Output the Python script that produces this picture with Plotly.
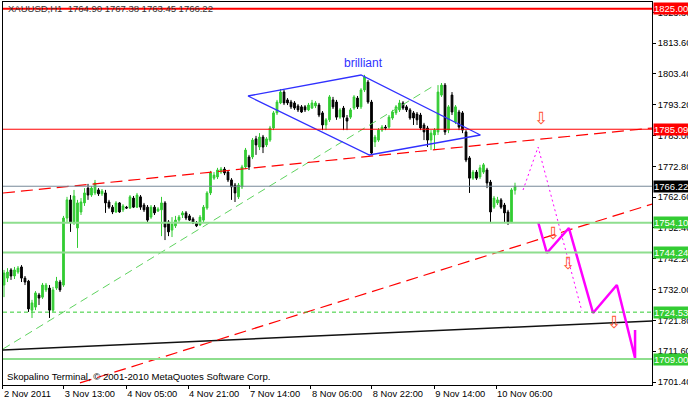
import plotly.graph_objects as go

# ---------------- data ----------------
opens = [
1733.5,1735.8,1738.5,1736.5,1737.8,1739.5,1735.8,1734.8,1725.2,1726.2,
1730.2,1729.5,1731.9,1732.5,1725.2,1732.5,1734.5,1733.5,1755.7,1761.7,
1754.4,1752.4,1757.7,1760.7,1765.6,1763.3,1764.0,1765.0,1763.7,1764.0,
1761.0,1759.3,1757.7,1760.7,1758.4,1759.3,1759.0,1762.3,1759.3,1762.7,
1760.0,1759.3,1756.0,1759.3,1758.0,1758.4,1760.7,1754.4,1751.7,1753.1,
1755.0,1756.7,1757.4,1756.4,1755.4,1754.0,1753.4,1755.0,1759.0,1764.0,
1768.9,1769.3,1770.9,1771.9,1770.9,1768.3,1766.6,1762.7,1766.0,1772.6,
1775.9,1775.9,1781.9,1779.2,1782.5,1779.9,1781.5,1785.5,1790.5,1793.8,
1797.4,1794.8,1794.1,1793.8,1792.8,1792.5,1792.5,1791.5,1792.1,1792.8,
1793.1,1790.5,1786.5,1788.2,1794.8,1794.1,1789.1,1792.1,1788.8,1789.1,
1792.1,1795.4,1792.5,1798.1,1800.7,1794.1,1780.9,1781.5,1784.8,1785.8,
1785.8,1788.8,1790.5,1791.5,1793.8,1792.5,1791.5,1790.5,1790.1,1789.8,
1786.5,1785.5,1781.5,1783.2,1784.2,1796.4,1799.7,1784.8,1796.4,1787.5,
1790.8,1790.5,1784.2,1775.6,1768.9,1770.9,1769.3,1770.9,1771.6,1767.6,
1759.3,1760.7,1761.7,1760.0,1757.7,1754.4,1764.90]

highs = [
1738.5,1739.1,1739.1,1739.5,1739.8,1740.1,1736.5,1735.2,1728.6,1731.5,
1730.9,1734.2,1734.2,1733.5,1732.9,1736.2,1735.2,1756.4,1762.7,1763.3,
1765.0,1761.7,1762.3,1765.6,1767.0,1766.3,1768.3,1765.6,1765.3,1765.0,
1761.7,1760.0,1761.3,1761.0,1760.3,1759.7,1763.3,1763.0,1764.0,1763.3,
1760.7,1760.0,1760.0,1760.0,1759.3,1762.7,1761.3,1755.0,1756.0,1756.4,
1756.7,1758.0,1758.0,1757.0,1756.0,1754.7,1756.7,1760.0,1764.6,1771.3,
1770.9,1772.3,1772.6,1772.6,1771.6,1768.9,1767.3,1767.3,1773.3,1778.9,
1776.6,1782.2,1782.9,1783.8,1783.2,1782.5,1786.2,1791.1,1794.8,1798.4,
1798.1,1795.4,1794.8,1794.4,1793.4,1793.1,1793.1,1793.8,1794.8,1794.4,
1793.8,1791.1,1788.8,1796.4,1795.8,1794.8,1792.1,1792.8,1789.8,1792.1,
1796.4,1796.1,1798.7,1803.1,1801.4,1794.8,1783.2,1785.5,1786.5,1786.5,
1789.8,1791.5,1793.1,1794.8,1794.4,1793.1,1792.1,1791.1,1790.8,1790.5,
1787.2,1786.2,1784.8,1785.5,1799.7,1800.4,1800.4,1793.1,1797.4,1793.1,
1791.5,1791.1,1784.8,1776.2,1771.6,1771.6,1773.3,1773.9,1772.3,1768.3,
1763.0,1762.7,1762.3,1760.7,1758.4,1765.6,1767.38]

lows = [
1729.5,1734.5,1735.2,1735.5,1737.2,1734.5,1733.5,1724.6,1722.6,1725.2,
1726.9,1728.9,1731.2,1722.6,1724.6,1731.9,1731.2,1732.9,1754.4,1751.1,
1753.4,1745.8,1756.7,1759.7,1761.7,1762.7,1763.3,1763.0,1763.0,1757.4,
1758.7,1757.0,1757.4,1757.4,1757.7,1758.7,1758.7,1759.0,1759.0,1758.4,
1757.7,1754.4,1755.4,1756.7,1757.7,1749.7,1748.4,1749.7,1749.4,1752.4,
1754.4,1755.7,1755.0,1754.7,1753.7,1752.7,1753.1,1754.4,1758.4,1763.3,
1768.3,1768.6,1770.3,1769.9,1767.6,1761.7,1761.0,1762.0,1765.3,1771.9,
1771.6,1775.2,1776.6,1778.2,1777.2,1779.2,1780.9,1784.8,1789.8,1793.4,
1793.1,1793.1,1791.8,1791.5,1790.8,1790.5,1790.8,1791.1,1791.8,1792.1,
1789.1,1784.8,1784.8,1787.5,1791.8,1788.2,1788.5,1784.8,1784.8,1788.5,
1791.5,1791.8,1791.8,1797.4,1793.5,1776.6,1779.2,1780.9,1784.2,1784.8,
1785.2,1788.2,1789.8,1790.8,1791.5,1790.8,1788.2,1786.5,1786.5,1784.8,
1781.5,1779.2,1778.2,1778.2,1783.2,1795.8,1783.2,1783.8,1789.8,1786.8,
1784.8,1783.8,1774.2,1764.0,1768.3,1768.3,1768.6,1770.3,1765.6,1754.4,
1758.7,1760.0,1758.7,1754.0,1753.4,1754.0,1763.45]

closes = [
1737.5,1737.8,1736.5,1738.5,1739.1,1735.8,1734.5,1725.6,1727.6,1730.9,
1729.2,1733.5,1733.5,1725.2,1731.9,1734.8,1731.9,1755.7,1761.7,1754.4,
1763.0,1760.7,1761.0,1764.0,1763.3,1765.6,1767.3,1763.7,1764.6,1760.7,
1759.3,1757.7,1760.7,1757.7,1759.7,1759.0,1762.7,1759.3,1763.3,1759.3,
1758.4,1755.0,1759.3,1757.4,1758.7,1760.7,1752.7,1751.1,1753.7,1755.0,
1756.0,1757.4,1755.7,1755.0,1754.0,1753.1,1756.0,1759.3,1764.0,1770.6,
1769.9,1771.6,1771.9,1770.6,1768.3,1766.0,1764.0,1766.6,1772.6,1778.2,
1772.6,1781.5,1779.9,1782.5,1779.2,1781.9,1785.5,1790.5,1794.1,1797.4,
1793.8,1793.8,1792.5,1792.1,1791.5,1790.8,1791.5,1793.1,1793.8,1793.8,
1789.8,1786.5,1788.2,1795.8,1792.5,1789.1,1791.5,1789.1,1787.8,1791.5,
1795.8,1792.5,1798.1,1802.4,1794.1,1777.2,1782.5,1784.8,1785.8,1785.5,
1789.1,1790.8,1792.5,1793.8,1792.1,1791.5,1788.8,1788.8,1788.2,1785.5,
1784.2,1781.5,1783.8,1784.8,1797.4,1799.7,1784.2,1792.5,1790.8,1792.5,
1785.8,1784.8,1774.9,1768.9,1770.9,1768.9,1772.3,1773.3,1767.3,1757.7,
1762.3,1761.7,1759.3,1757.4,1754.4,1765.0,1766.22]

bars = list(range(len(closes)))

time_tick_bars = [-0.3, 17.1, 34.9, 52.6, 70.0, 87.7, 105.1, 122.9, 140.6]
time_tick_labels = ["2 Nov 2011", "3 Nov 13:00", "4 Nov 05:00", "4 Nov 21:00",
                    "7 Nov 14:00", "8 Nov 06:00", "8 Nov 22:00", "9 Nov 14:00",
                    "10 Nov 06:00"]

price_ticks = [1701.40, 1711.60, 1721.80, 1732.00, 1742.20, 1752.40, 1762.60,
               1772.80, 1783.00, 1793.20, 1803.40, 1813.60, 1823.80]

# horizontal levels: value, line colour, label background
level_values = [1825.00, 1785.09, 1766.22, 1754.10, 1744.24, 1724.53, 1709.00]
level_line_colors = ["#ff0000", "#ff0000", "#778899", "#8ede8e", "#8ede8e", "#33cc33", "#8ede8e"]
level_widths = [2, 1, 1, 2, 2, 1, 2]
level_dash = ["solid", "solid", "solid", "solid", "solid", "4px,3px", "solid"]
level_box_colors = ["#ff0000", "#ff0000", "#000000", "#33cc33", "#33cc33", "#33cc33", "#33cc33"]

# trend lines (bar index, price)
red_upper_x = [-0.29, 185.2]
red_upper_y = [1763.98, 1785.50]
red_lower_x = [21.7, 185.2]
red_lower_y = [1701.1, 1760.34]
green_trend_x = [-0.29, 123.1]
green_trend_y = [1712.33, 1799.7]
black_trend_x = [-0.29, 185.2]
black_trend_y = [1711.99, 1721.60]

diamond_x = [69.7, 102.0, 136.1, 104.4, 69.7]
diamond_y = [1796.1, 1803.05, 1783.18, 1776.56, 1796.1]

proj_dot_x = [148.3, 152.6, 165.1]
proj_dot_y = [1764.97, 1779.21, 1724.91]
proj_x = [152.6, 155.1, 161.4, 168.3, 175.1, 180.3, 180.3]
proj_y = [1754.38, 1744.11, 1752.39, 1724.24, 1733.52, 1709.35, 1718.62]

arrow_x = [153.4, 156.9, 161.1, 174.3]
arrow_y = [1788.8, 1750.7, 1740.8, 1721.3]

FONT = "Liberation Sans, Arial, sans-serif"

fig = go.Figure()

fig.add_trace(go.Candlestick(
    x=bars, open=opens, high=highs, low=lows, close=closes,
    increasing=dict(line=dict(color="#33cc33", width=1), fillcolor="#33cc33"),
    decreasing=dict(line=dict(color="#000000", width=1), fillcolor="#000000"),
    whiskerwidth=0, hoverinfo="skip", showlegend=False))

def add_line(xs, ys, color, width, dash="solid"):
    fig.add_trace(go.Scatter(x=xs, y=ys, mode="lines",
                             line=dict(color=color, width=width, dash=dash),
                             hoverinfo="skip", showlegend=False, cliponaxis=True))

add_line(green_trend_x, green_trend_y, "#5fd35f", 1, "8px,5px")
add_line(black_trend_x, black_trend_y, "#111111", 1.5)
add_line(red_upper_x, red_upper_y, "#ff0000", 1.2, "12px,6px")
add_line(red_lower_x, red_lower_y, "#ff0000", 1.2, "12px,6px")
add_line(diamond_x, diamond_y, "#3030ff", 1.3)
add_line(proj_dot_x, proj_dot_y, "#ff00ff", 1, "2px,3px")
add_line(proj_x, proj_y, "#ff00ff", 2.5)

shapes = []
annotations = []
for v, lc, w, d, bc in zip(level_values, level_line_colors, level_widths, level_dash, level_box_colors):
    shapes.append(dict(type="line", xref="paper", x0=0, x1=1, yref="y", y0=v, y1=v,
                       line=dict(color=lc, width=w, dash=d), layer="above"))
    annotations.append(dict(xref="paper", x=1, xanchor="left", xshift=1,
                            yref="y", y=v, yanchor="middle", text=f"{v:.2f}",
                            showarrow=False, bgcolor=bc, borderpad=0,
                            font=dict(family=FONT, size=9.5, color="white")))

for ax_, ay_ in zip(arrow_x, arrow_y):
    annotations.append(dict(x=ax_, y=ay_, xref="x", yref="y", text="⇩", showarrow=False,
                            font=dict(family="DejaVu Sans", size=17, color="#ff5030")))

annotations.append(dict(x=102.6, y=1807.0, xref="x", yref="y", text="brilliant",
                        showarrow=False, font=dict(family=FONT, size=12, color="#3030ff")))
annotations.append(dict(xref="paper", x=0, xanchor="left", xshift=3, yref="paper", y=1,
                        yanchor="top", yshift=1,
                        text="XAUUSD,H1  1764.90 1767.38 1763.45 1766.22",
                        showarrow=False, font=dict(family=FONT, size=9.5, color="#333333")))
annotations.append(dict(xref="paper", x=0, xanchor="left", xshift=2, yref="paper", y=0,
                        yanchor="bottom", yshift=1,
                        text="Skopalino Terminal, © 2001-2010 MetaQuotes Software Corp.",
                        showarrow=False, font=dict(family=FONT, size=9.6, color="#000000")))

fig.update_layout(
    width=688, height=401,
    margin=dict(l=3, r=36, t=2, b=16, pad=0, autoexpand=False),
    paper_bgcolor="white", plot_bgcolor="white",
    shapes=shapes, annotations=annotations,
    font=dict(family=FONT, size=9.3, color="black"),
    xaxis=dict(range=[-0.286, 185.14], showgrid=False, zeroline=False,
               showline=True, linecolor="black", linewidth=1, mirror=True,
               ticks="outside", ticklen=3, tickcolor="black",
               tickvals=time_tick_bars, ticktext=time_tick_labels,
               ticklabelposition="outside right", tickangle=0, automargin=False,
               tickfont=dict(family=FONT, size=9.3, color="black"),
               rangeslider=dict(visible=False), fixedrange=True),
    yaxis=dict(range=[1700.41, 1827.22], side="right", showgrid=False, zeroline=False,
               showline=True, linecolor="black", linewidth=1, mirror=True,
               ticks="outside", ticklen=3, tickcolor="black", automargin=False,
               tickvals=price_ticks, ticktext=[f"{t:.2f}" for t in price_ticks],
               tickfont=dict(family=FONT, size=9.3, color="black"), fixedrange=True),
)

fig.write_html("out.html", config={"displayModeBar": False},
               post_script="document.body.style.margin='0px';document.body.style.padding='0px';document.body.style.overflow='hidden';")
